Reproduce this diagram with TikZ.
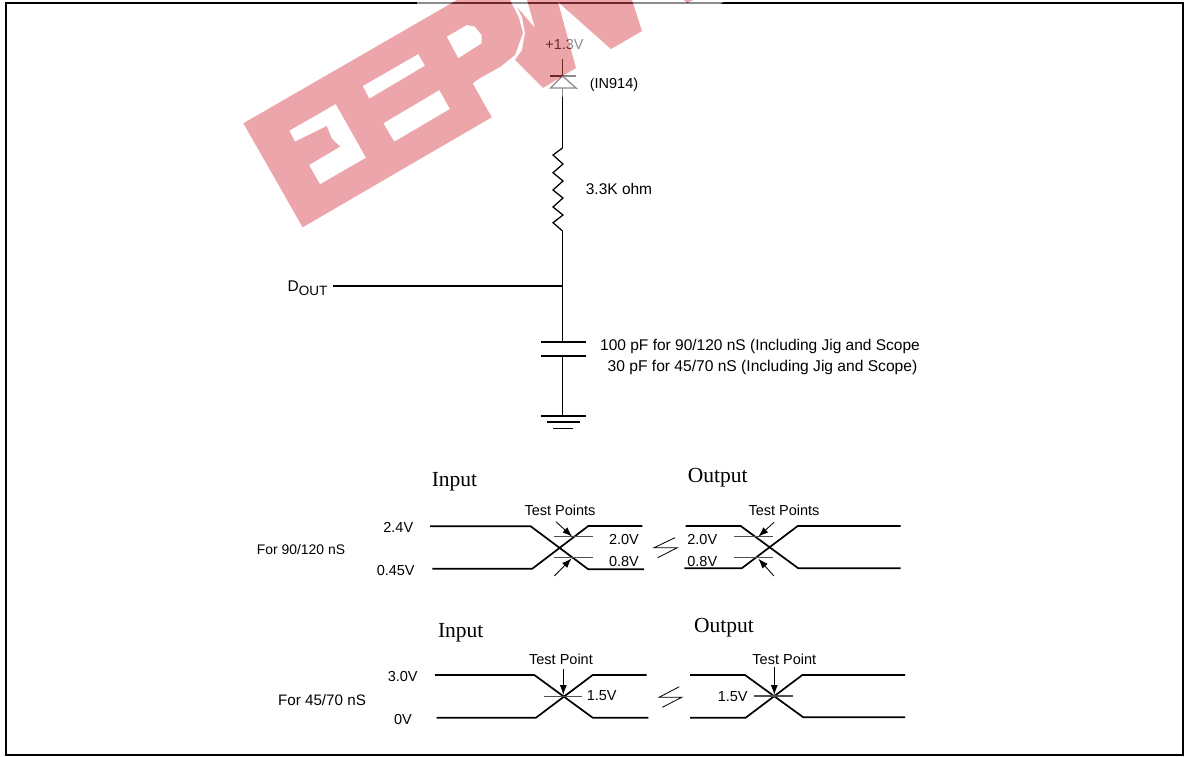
\documentclass[tikz,border=0pt]{standalone}
\usepackage{fontspec}
\setmainfont{Liberation Sans}
\newfontfamily\timesfont{Liberation Serif}
\usetikzlibrary{arrows.meta}
\definecolor{wmark}{RGB}{217,77,85}
\definecolor{lvl}{RGB}{80,80,80}
\tikzset{
  framebox/.style={draw=black,line width=2pt},
  wire/.style={draw=black,line width=1.25pt},
  wave/.style={draw=black,line width=1.7pt,line join=miter},
  level/.style={draw=lvl,line width=1.5pt},
  thinline/.style={draw=black,line width=0.8pt},
  pointer/.style={draw=black,line width=0.85pt,-{Latex[length=10pt,width=7pt]}},
  circuitlabel/.style={inner sep=0pt,font=\fontsize{15.5}{18}\selectfont},
  smalllabel/.style={inner sep=0pt,font=\fontsize{14.5}{17}\selectfont},
  wavelabel/.style={inner sep=0pt,font=\fontsize{14.5}{17}\selectfont},
  sidelabel/.style={inner sep=0pt,font=\fontsize{13.9}{16}\selectfont},
  sidelabelb/.style={inner sep=0pt,font=\fontsize{15.2}{18}\selectfont},
  heading/.style={inner sep=0pt,font=\timesfont\fontsize{21.5}{24}\selectfont}
}
\newcommand{\pinkshape}{
  (457,0) -- (243.3,123.3) -- (302.7,227.3) -- (491.7,117.3) -- (472.7,83.3) -- (480,78) -- (500,67) -- (515,55) -- (523,33) -- (519,18) -- (510,0) -- cycle
  (446.7,36.7) -- (466.7,25) -- (475,26.7) -- (481.7,35) -- (481.7,43.3) -- (458.3,58.3) -- cycle
  (362.7,86) -- (418.3,54) -- (425,65.7) -- (369.3,98.7) -- cycle
  (383.3,123.3) -- (439.3,90) -- (450,109) -- (394.3,141.7) -- cycle
  (289.3,130.7) -- (335.7,104) -- (366,157.7) -- (320,184.3) -- (309,165) -- (340,146.7) -- (331.7,138.3) -- (326.7,126) -- (295,141.7) -- cycle
  (515,60) -- (522,50) -- (525,33) -- (522,17) -- (517,7) -- (535,28) -- (527,0) -- (632,0) -- (642,31) -- (611,49) -- (558,2) -- (576,68) -- (543,88) -- cycle
  (684,0) -- (687,3) -- (693,0) -- cycle
}
\begin{document}
\begin{tikzpicture}[x=1pt,y=-1pt]
\useasboundingbox (0,0) rectangle (1184,756);
\draw[framebox] (5.5,3) rectangle (1182.5,754.5);

% circuit coordinates
\coordinate (vtop) at (562.5,59);
\coordinate (dk) at (562.5,76);
\coordinate (da) at (562.5,88);
\coordinate (rt) at (562.5,148);
\coordinate (rb) at (562.5,231);
\coordinate (junction) at (562.5,286);
\coordinate (ct) at (562.5,342);
\coordinate (cb) at (562.5,356);
\coordinate (gnd) at (562.5,416);

% diode
\draw[wire] (vtop) -- (dk);
\draw[wire] (550,76) -- (576,76);
\draw[wire] (dk) -- (576,88) -- (550.5,88) -- cycle;
\draw[wire] (da) -- (rt);
% resistor
\draw[wire,line join=miter] (rt) -- (553,155) -- (563,164) -- (553,172.7) -- (563,181) -- (553,190) -- (563,198) -- (553,207) -- (563,215) -- (553,222.7) -- (rb);
\draw[wire] (rb) -- (junction) -- (ct);
% capacitor
\draw[wire] (541,342) -- (586,342);
\draw[wire] (541,356) -- (586,356);
\draw[wire] (cb) -- (gnd);
% ground
\draw[wire] (541,416) -- (586,416);
\draw[wire] (546.7,422) -- (580,422);
\draw[wire] (553,428.3) -- (572.7,428.3);
% D OUT
\node[circuitlabel] (dout) at (307.5,288) {D\raisebox{-0.55ex}{\fontsize{13.5}{15}\selectfont OUT}};
\coordinate (doutend) at (333,286);
\draw[wire] (doutend) -- (junction);

\node[smalllabel] (vplus) at (564.5,44.5) {+1.3V};
\node[smalllabel] (diodelabel) at (614,85) {(IN914)};
\node[circuitlabel] (rlabel) at (619,188.5) {3.3K ohm};
\node[circuitlabel,anchor=west] (capa) at (600,346.5) {100 pF for 90/120 nS (Including Jig and Scope};
\node[inner sep=0pt,font=\fontsize{15.6}{18}\selectfont,anchor=west] (capb) at (607.5,367) {30 pF for 45/70 nS (Including Jig and Scope)};

% group 1 input
\node[heading] (in1) at (454.5,482) {Input};
\node[wavelabel] (tp1) at (560,510) {Test Points};
\node[wavelabel] (l24) at (398.3,527.5) {2.4V};
\node[wavelabel] (l045) at (395.7,570.5) {0.45V};
\node[wavelabel] (i20) at (624,539) {2.0V};
\node[wavelabel] (i08) at (624,561) {0.8V};
\node[sidelabel] (for1) at (301,549.5) {For 90/120 nS};
\draw[wave] (430,526.3) -- (530.7,526.3) -- (588.3,569.3) -- (644,569.3);
\draw[wave] (432.3,568.7) -- (532.3,568.7) -- (588.3,526) -- (642.3,526);
\draw[level] (554.3,536.7) -- (593.3,536.7);
\draw[level] (554.3,557.7) -- (593.3,557.7);
\draw[pointer] (556,521.7) -- (572.3,536.7);
\draw[pointer] (554.3,576) -- (571.7,558.3);
\draw[thinline] (675,537.7) -- (654,547.7) -- (677.3,547.7) -- (657.7,557.7);

% group 1 output
\node[heading] (out1) at (717.7,478) {Output};
\node[wavelabel] (tp2) at (784,510) {Test Points};
\node[wavelabel] (o20) at (702.3,539) {2.0V};
\node[wavelabel] (o08) at (702.3,561.5) {0.8V};
\draw[wave] (685.7,526) -- (740.7,526) -- (798.3,568.3) -- (900.7,568.3);
\draw[wave] (684.3,568.3) -- (741.7,568.3) -- (797.7,526) -- (900.7,526);
\draw[level] (734.3,536.7) -- (773.3,536.7);
\draw[level] (734.3,557.7) -- (773.3,557.7);
\draw[pointer] (774,522.3) -- (758.3,536.7);
\draw[pointer] (774,576) -- (758.3,558.7);

% group 2 input
\node[heading] (in2) at (460.7,633) {Input};
\node[wavelabel] (tp3) at (561,659.3) {Test Point};
\node[wavelabel] (l30) at (402.7,676.7) {3.0V};
\node[wavelabel] (l0) at (403,719) {0V};
\node[wavelabel] (i15) at (601.7,696) {1.5V};
\node[sidelabelb] (for2) at (322,700) {For 45/70 nS};
\draw[wave] (435,675) -- (534.3,675) -- (592.7,717.7) -- (648.3,717.7);
\draw[wave] (436.7,717.7) -- (536,717.7) -- (592.7,675) -- (646.7,675);
\draw[level] (544,696.3) -- (582.3,696.3);
\draw[pointer] (563.3,669.3) -- (563.3,695);
\draw[thinline] (679.3,686.7) -- (659,697.3) -- (681.7,697.3) -- (662.3,707.3);

% group 2 output
\node[heading] (out2) at (724,628) {Output};
\node[wavelabel] (tp4) at (784.3,659.3) {Test Point};
\node[wavelabel] (o15) at (732.7,697) {1.5V};
\draw[wave] (690,675) -- (745,675) -- (803.3,717.3) -- (905,717.3);
\draw[wave] (690,717.7) -- (745.7,717.7) -- (802.3,675) -- (905,675);
\draw[level] (754,696) -- (792.7,696);
\draw[pointer] (774.3,667.3) -- (774.3,695);

% watermark: light halo, then the translucent mark
\fill[white,fill opacity=0.55,even odd rule] (417,0) -- (727,0) -- (562,97) -- (440,167) -- (417,100) -- cycle \pinkshape;
\fill[wmark,fill opacity=0.5,even odd rule] \pinkshape;
\end{tikzpicture}
\end{document}
